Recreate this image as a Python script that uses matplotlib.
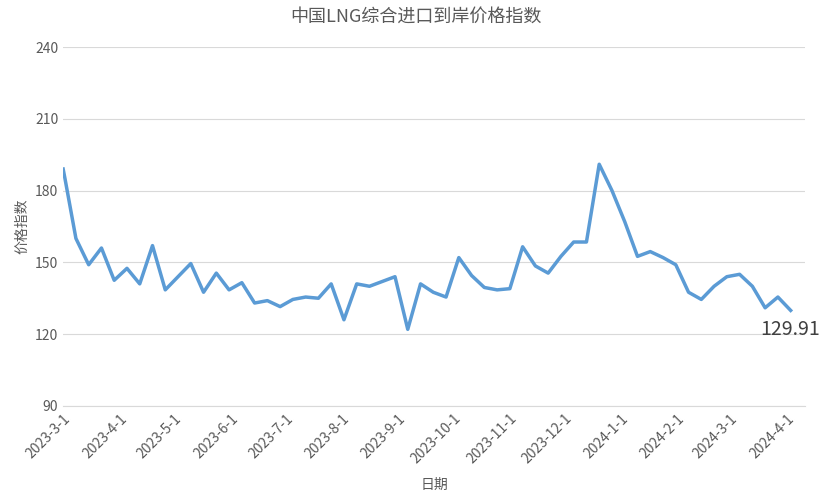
import matplotlib.pyplot as plt
import matplotlib.dates as mdates
import numpy as np
import pandas as pd

plt.rcParams['font.family'] = ['Noto Sans CJK SC', 'DejaVu Sans']

# weekly index values
values = [189, 185, 160, 149, 156, 142.5, 147.5, 141, 157, 138.5, 144, 149.5, 137.5, 145.5,
          138.5, 141.5, 133, 134, 131.5, 134.5, 135.5, 135, 141, 126, 141, 140, 142, 144,
          122, 141, 137.5, 135.5, 152, 144.5, 139.5, 138.5, 139, 156.5, 148.5, 145.5, 152.5,
          158.5, 158.5, 191, 180, 167, 152.5, 154.5, 152, 149, 137.5, 134.5, 140, 144, 145,
          140, 131, 135.5, 129.91]
dates = [pd.Timestamp("2023-03-01"), pd.Timestamp("2023-03-02")] + \
    list(pd.date_range("2023-03-08", periods=len(values) - 2, freq="7D"))
yticks = [90, 120, 150, 180, 210, 240]

fig = plt.figure(figsize=(8.31, 4.95), dpi=100)
ax = fig.add_axes([0.076, 0.18, 0.893, 0.725])
ax.plot(dates, values, color="#5B9BD5", lw=2.5)
ax.set_ylim(90, 240)
ax.set_yticks(yticks)
ax.set_xlim(pd.Timestamp("2023-03-01"), pd.Timestamp("2024-04-11"))
ticks = pd.date_range("2023-03-01", "2024-04-01", freq="MS")
ax.set_xticks(ticks)
ax.set_xticklabels([f"{d.year}-{d.month}-{d.day}" for d in ticks], rotation=45,
                   ha="right", rotation_mode="anchor", fontsize=10, color="#595959")
ax.tick_params(axis="y", labelsize=10, labelcolor="#595959", length=0)
ax.tick_params(axis="x", length=0, pad=4)
ax.grid(axis="y", color="#D9D9D9", lw=0.8)
for s in ["top", "right", "left"]:
    ax.spines[s].set_visible(False)
ax.spines["bottom"].set_color("#D9D9D9")
ax.annotate("129.91", (dates[-1], values[-1]), xytext=(-22, -14), textcoords="offset points",
            fontsize=14, color="#404040", va="center")
ax.set_ylabel("价格指数", fontsize=10, color="#595959")
ax.set_xlabel("日期", fontsize=10, color="#595959")
ax.xaxis.set_label_coords(0.5, -0.2)
fig.suptitle("中国LNG综合进口到岸价格指数", fontsize=13, color="#595959", y=0.985)
fig.savefig("out.png")
